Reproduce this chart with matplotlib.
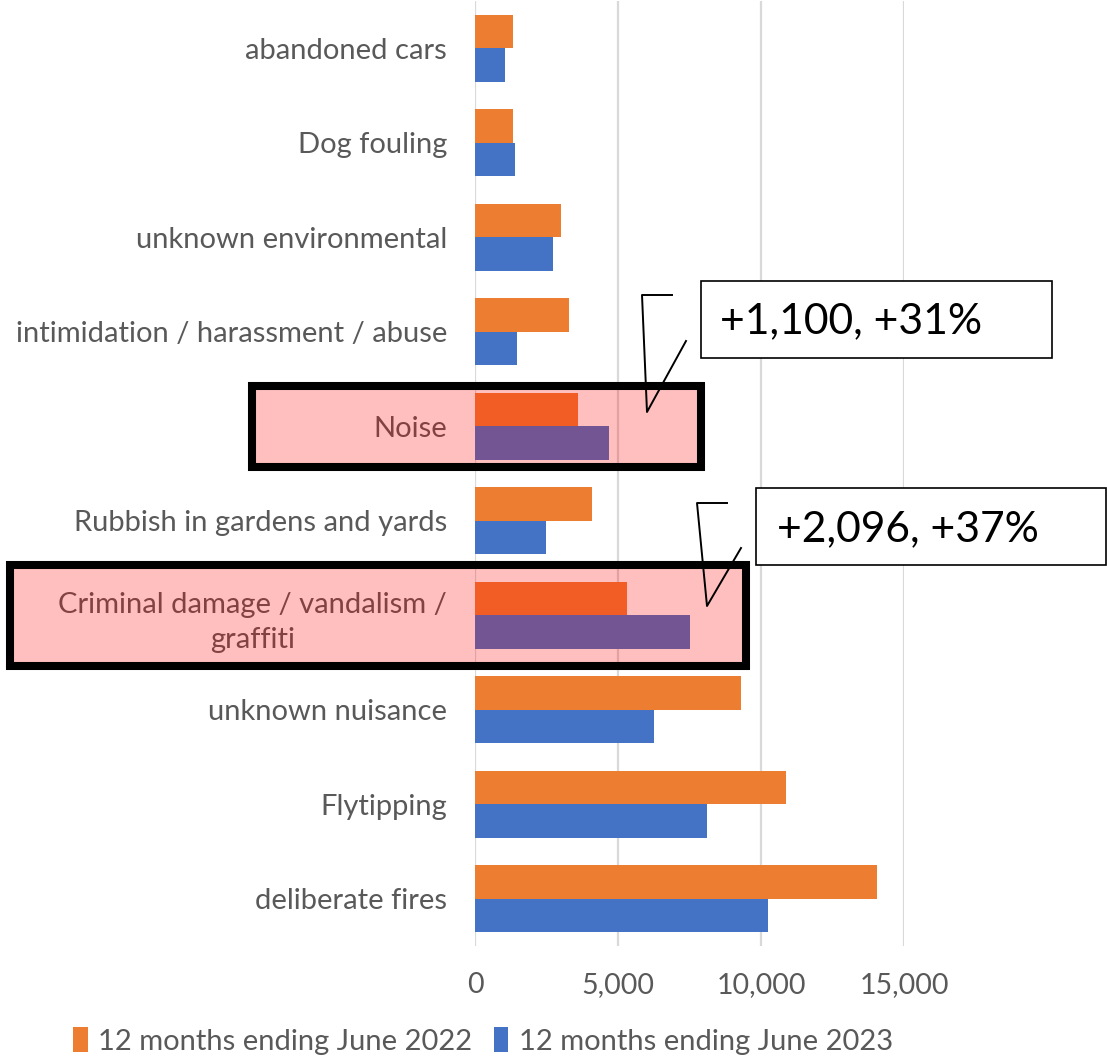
import matplotlib.pyplot as plt
import matplotlib.transforms as mtransforms
from matplotlib.patches import Rectangle
from matplotlib.lines import Line2D

# data
categories = [
    "abandoned cars",
    "Dog fouling",
    "unknown environmental",
    "intimidation / harassment / abuse",
    "Noise",
    "Rubbish in gardens and yards",
    "Criminal damage / vandalism /\ngraffiti",
    "unknown nuisance",
    "Flytipping",
    "deliberate fires",
]
year_2022 = [1330, 1330, 3020, 3280, 3600, 4090, 5310, 9290, 10870, 14050]
year_2023 = [1050, 1400, 2740, 1470, 4680, 2480, 7510, 6250, 8110, 10240]
series_labels = ["12 months ending June 2022", "12 months ending June 2023"]
xticks = [0, 5000, 10000, 15000]
highlight_idx = [4, 6]
highlight_notes = ["+1,100, +31%", "+2,096, +37%"]

ORANGE = "#ED7D31"
BLUE = "#4472C4"
GREY = "#595959"
FONT = "Lato"

W, H = 1107, 1057
plt.rcParams["font.family"] = [FONT, "DejaVu Sans"]


def fx(x):
    return x / W


def fy(y):
    return 1 - y / H


fig = plt.figure(figsize=(W / 100, H / 100), dpi=100)
ax = fig.add_axes([fx(475), fy(946), 429 / W, 945 / H])

bar_h = 0.357
pos = list(range(len(categories)))
ax.barh([p - bar_h / 2 for p in pos], year_2022, height=bar_h, color=ORANGE,
        label=series_labels[0], zorder=2)
ax.barh([p + bar_h / 2 for p in pos], year_2023, height=bar_h, color=BLUE,
        label=series_labels[1], zorder=2)

ax.set_ylim(len(categories) - 0.5, -0.5)
ax.set_xlim(0, 15000)
ax.set_yticks(pos)
ax.set_yticklabels(categories, fontsize=21, color=GREY, multialignment="center",
                   linespacing=1.45)
ax.set_xticks(xticks)
ax.set_xticklabels([f"{t:,}" for t in xticks], fontsize=20.5, color=GREY)
ax.tick_params(axis="both", length=0)
ax.tick_params(axis="y", pad=20)
ax.tick_params(axis="x", pad=19)
for s in ax.spines.values():
    s.set_visible(False)
ax.grid(axis="x", color="#D9D9D9", linewidth=1.6, zorder=1)
ax.set_axisbelow(True)

# red overlay boxes with thick black frame around highlighted categories
blend = mtransforms.blended_transform_factory(fig.transFigure, ax.transData)
box_specs = [(252, 701, 0.43, 0.43), (9.5, 746, 0.535, 0.533)]
for idx, (x0, x1, up, down) in zip(highlight_idx, box_specs):
    r = Rectangle((fx(x0), idx - up), (x1 - x0) / W, up + down, transform=blend,
                  facecolor=(1, 0, 0, 0.25), edgecolor="black", linewidth=5.8,
                  clip_on=False, zorder=10)
    fig.add_artist(r)

# callout boxes
note_boxes = [(701, 281, 1052, 358, 720, 333), (756, 488, 1106, 565, 777, 541)]
callouts = [
    [(672, 295), (642, 295), (647, 412), (686, 341)],
    [(727, 503), (697, 503), (707, 606), (741, 548)],
]
for text, (bx0, by0, bx1, by1, tx, ty), pts in zip(highlight_notes, note_boxes, callouts):
    fig.add_artist(Rectangle((fx(bx0), fy(by1)), (bx1 - bx0) / W, (by1 - by0) / H,
                             transform=fig.transFigure, facecolor="white",
                             edgecolor="black", linewidth=1.2, zorder=11))
    fig.text(fx(tx), fy(ty), text, fontsize=30.7, color="black", ha="left",
             va="baseline", zorder=12)
    fig.add_artist(Line2D([fx(p[0]) for p in pts], [fy(p[1]) for p in pts],
                          transform=fig.transFigure, color="black",
                          linewidth=1.4, zorder=12))

fig.legend(loc="center left", bbox_to_anchor=(fx(73), fy(1041)), ncol=2,
           frameon=False, fontsize=21, labelcolor=GREY, handlelength=0.5,
           handleheight=0.95, handletextpad=0.35, columnspacing=0.75,
           borderpad=0, borderaxespad=0)

fig.savefig("out.png", dpi=100)
